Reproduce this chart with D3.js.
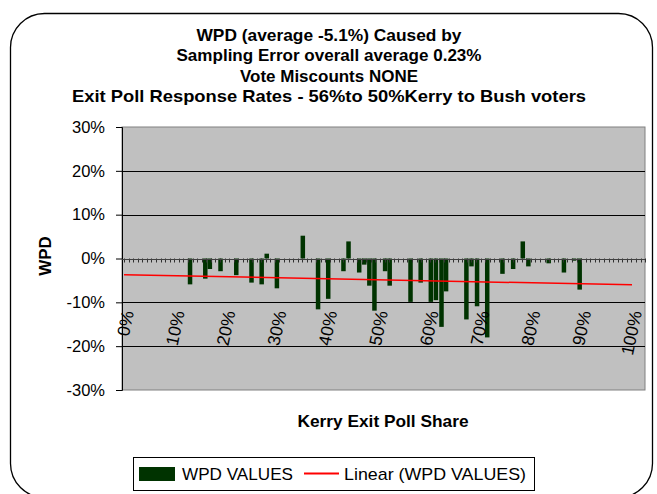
<!DOCTYPE html>
<html><head><meta charset="utf-8">
<script src="https://cdn.jsdelivr.net/npm/d3@7"></script>
<style>body{margin:0;background:#fff}svg{display:block;font-family:"Liberation Sans",Arial,sans-serif}</style>
</head><body><svg id="c" width="657" height="494"></svg>
<script>
const titleLines = ["WPD (average -5.1%) Caused by","Sampling Error overall average 0.23%","Vote Miscounts NONE","Exit Poll Response Rates - 56%to 50%Kerry to Bush voters"];
const kerryShare = [0.130,0.160,0.169,0.190,0.221,0.251,0.271,0.281,0.301,0.352,0.382,0.402,0.432,0.442,0.463,0.473,0.483,0.493,0.514,0.523,0.564,0.584,0.604,0.614,0.625,0.634,0.674,0.684,0.695,0.715,0.745,0.766,0.785,0.796,0.836,0.866,0.886,0.897];
const wpdValues = [-0.059,-0.046,-0.024,-0.029,-0.038,-0.055,-0.059,0.011,-0.068,0.052,-0.116,-0.092,-0.029,0.039,-0.032,-0.014,-0.062,-0.119,-0.029,-0.062,-0.099,-0.055,-0.099,-0.095,-0.156,-0.075,-0.139,-0.018,-0.109,-0.180,-0.035,-0.024,0.039,-0.018,-0.011,-0.032,-0.005,-0.071];
const trendX = [0, 1];
const trendY = [-0.037, -0.060];
const yTicks = [-0.3,-0.2,-0.1,0,0.1,0.2,0.3];
const xLabels = [0,0.1,0.2,0.3,0.4,0.5,0.6,0.7,0.8,0.9,1.0];
const legendItems = ["WPD VALUES","Linear (WPD VALUES)"];

const svg = d3.select("#c");
const L = 122, R = 645, T = 127, B = 390;
const x = d3.scaleLinear().domain([0,1]).range([124,632]);
const y = d3.scaleLinear().domain([-0.3,0.3]).range([B,T]);
const pct = v => Math.round(v*100) + "%";

// outer rounded frame
svg.append("rect").attr("x",10.5).attr("y",13.5).attr("width",642).attr("height",484)
  .attr("rx",34).attr("fill","#fff").attr("stroke","#000").attr("stroke-width",1.3);

// title
const titleW = [265, 305, 178, 514];
svg.append("g").selectAll("text").data(titleLines).join("text")
  .attr("x",329).attr("y",(d,i)=>40.5+i*20.5).attr("text-anchor","middle")
  .attr("font-size",17).attr("font-weight","bold").attr("fill","#000")
  .attr("textLength",(d,i)=>titleW[i]).attr("lengthAdjust","spacingAndGlyphs")
  .text(d=>d);

// plot area
svg.append("rect").attr("x",L).attr("y",T).attr("width",R-L).attr("height",B-T)
  .attr("fill","#c0c0c0").attr("stroke","#808080").attr("stroke-width",1);

// gridlines
svg.append("g").selectAll("line").data(yTicks.filter(v=>v!==0 && Math.abs(v)<0.3)).join("line")
  .attr("x1",L).attr("x2",R).attr("y1",d=>Math.round(y(d))+0.5).attr("y2",d=>Math.round(y(d))+0.5)
  .attr("stroke","#000").attr("stroke-width",1);

// y axis
const yAxis = d3.axisLeft(y).tickValues(yTicks).tickFormat(pct).tickSizeOuter(0).tickSize(6).tickPadding(11);
const gy = svg.append("g").attr("transform",`translate(${L},0)`).call(yAxis);
gy.select(".domain").attr("stroke","#000");
gy.selectAll(".tick line").attr("stroke","#000");
gy.selectAll("text").attr("font-size",16.5).attr("fill","#000").attr("font-family","Liberation Sans, Arial, sans-serif");

// bars
svg.append("g").selectAll("rect").data(kerryShare.map((k,i)=>({k,v:wpdValues[i]}))).join("rect")
  .attr("x",d=>x(d.k)-2.25).attr("width",4.5)
  .attr("y",d=>y(Math.max(0,d.v))).attr("height",d=>Math.abs(y(d.v)-y(0)))
  .attr("fill","#003300");

// zero axis with minor ticks
const minorTicks = d3.range(0, 1.03, 0.009);
svg.append("g").selectAll("line").data(minorTicks).join("line")
  .attr("x1",d=>Math.round(x(d))+0.5).attr("x2",d=>Math.round(x(d))+0.5)
  .attr("y1",y(0)).attr("y2",y(0)+4).attr("stroke","#303030").attr("stroke-width",1);
svg.append("line").attr("x1",L).attr("x2",R).attr("y1",Math.round(y(0))+0.5).attr("y2",Math.round(y(0))+0.5)
  .attr("stroke","#404040").attr("stroke-width",1.2);

// trend line
svg.append("path").datum(trendX.map((t,i)=>[t,trendY[i]]))
  .attr("d",d3.line().x(d=>x(d[0])).y(d=>y(d[1])))
  .attr("stroke","#ff0000").attr("stroke-width",1.5).attr("fill","none");

// x labels (rotated)
svg.append("g").selectAll("text").data(xLabels).join("text")
  .attr("transform",d=>`translate(${x(d)+4},311) rotate(-78)`)
  .attr("text-anchor","end").attr("dy","0.35em")
  .attr("font-size",17.5).attr("fill","#000").text(d=>pct(d));

// axis titles
svg.append("text").attr("x",383).attr("y",427).attr("text-anchor","middle")
  .attr("font-size",17).attr("font-weight","bold")
  .attr("textLength",171).attr("lengthAdjust","spacingAndGlyphs").text("Kerry Exit Poll Share");
svg.append("text").attr("transform","translate(51,256) rotate(-90)").attr("text-anchor","middle")
  .attr("font-size",17).attr("font-weight","bold").text("WPD");

// legend
const lg = svg.append("g");
lg.append("rect").attr("x",133.5).attr("y",457.5).attr("width",401).attr("height",33)
  .attr("fill","#fff").attr("stroke","#000").attr("stroke-width",1);
lg.append("rect").attr("x",139).attr("y",467).attr("width",36).attr("height",14).attr("fill","#003300");
lg.append("text").attr("x",182).attr("y",474).attr("dy","0.35em").attr("font-size",17)
  .attr("textLength",111).attr("lengthAdjust","spacingAndGlyphs").text(legendItems[0]);
lg.append("line").attr("x1",304).attr("x2",339).attr("y1",473.5).attr("y2",473.5).attr("stroke","#ff0000").attr("stroke-width",2);
lg.append("text").attr("x",344).attr("y",474).attr("dy","0.35em").attr("font-size",17)
  .attr("textLength",182).attr("lengthAdjust","spacingAndGlyphs").text(legendItems[1]);
</script></body></html>
